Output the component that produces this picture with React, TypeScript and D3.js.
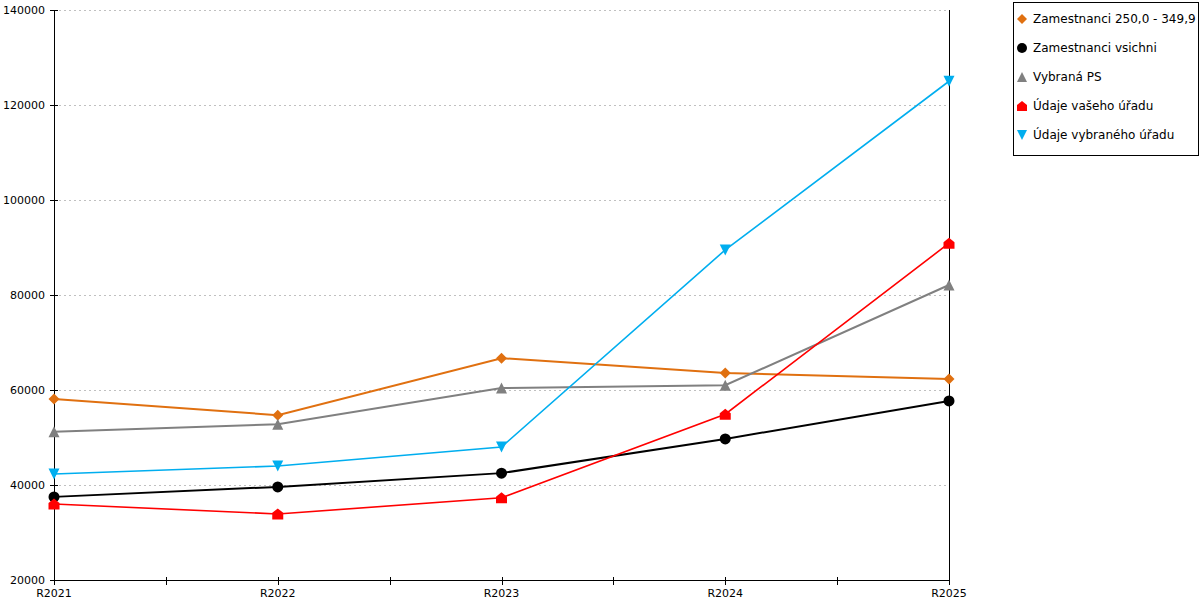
import { useRef, useEffect } from 'react';
import * as d3 from 'd3';

const years = ['R2021', 'R2022', 'R2023', 'R2024', 'R2025'];
const yTicks = [20000, 40000, 60000, 80000, 100000, 120000, 140000];

const zam250 = [58100, 54700, 66700, 63600, 62300];
const zamAll = [37500, 39600, 42500, 49700, 57700];
const vybranaPS = [51200, 52800, 60400, 61000, 82100];
const vasUrad = [36000, 33900, 37300, 54900, 90900];
const vybranyUrad = [42300, 44000, 48000, 89500, 125000];

type Marker = 'diamond' | 'circle' | 'triangle' | 'house' | 'triangleDown';

const series: { name: string; values: number[]; color: string; width: number; marker: Marker }[] = [
  { name: 'Zamestnanci 250,0 - 349,9', values: zam250, color: '#e07010', width: 2, marker: 'diamond' },
  { name: 'Zamestnanci vsichni', values: zamAll, color: '#000000', width: 2, marker: 'circle' },
  { name: 'Vybraná PS', values: vybranaPS, color: '#808080', width: 2, marker: 'triangle' },
  { name: 'Údaje vašeho úřadu', values: vasUrad, color: '#ff0000', width: 1.6, marker: 'house' },
  { name: 'Údaje vybraného úřadu', values: vybranyUrad, color: '#00aeef', width: 1.6, marker: 'triangleDown' },
];

function markerPath(m: Marker, s: number) {
  switch (m) {
    case 'diamond':
      return `M0,${-s}L${s},0L0,${s}L${-s},0Z`;
    case 'circle':
      return d3.symbol(d3.symbolCircle, Math.PI * s * s)()!;
    case 'triangle':
      return `M0,${-s}L${s},${s}L${-s},${s}Z`;
    case 'house':
      return `M0,${-s}L${s},${-s * 0.2}L${s},${s}L${-s},${s}L${-s},${-s * 0.2}Z`;
    case 'triangleDown':
      return `M${-s},${-s}L${s},${-s}L0,${s}Z`;
  }
}

export default function App() {
  const svgRef = useRef<SVGSVGElement>(null);

  useEffect(() => {
    if (!svgRef.current) return;
    const svg = d3.select(svgRef.current);
    svg.selectAll('*').remove();

    const font = 'DejaVu Sans, sans-serif';
    const left = 54;
    const right = 949;
    const top = 10;
    const bottom = 580;

    const x = d3.scalePoint<string>().domain(years).range([left, right]);
    const y = d3.scaleLinear().domain([20000, 140000]).range([bottom, top]);

    // gridlines
    svg
      .append('g')
      .selectAll('line')
      .data(yTicks.slice(1))
      .join('line')
      .attr('x1', left)
      .attr('x2', right - 3)
      .attr('y1', (d) => y(d) + 0.5)
      .attr('y2', (d) => y(d) + 0.5)
      .attr('stroke', '#c0c0c0')
      .attr('stroke-width', 1)
      .attr('stroke-dasharray', '2,3');

    // axes
    const axisG = svg.append('g').attr('stroke', '#000').attr('stroke-width', 1);
    axisG.append('line').attr('x1', left + 0.5).attr('x2', left + 0.5).attr('y1', top).attr('y2', bottom);
    axisG.append('line').attr('x1', right + 0.5).attr('x2', right + 0.5).attr('y1', top).attr('y2', bottom);
    axisG.append('line').attr('x1', left).attr('x2', right).attr('y1', bottom + 0.5).attr('y2', bottom + 0.5);

    axisG
      .selectAll('.ytick')
      .data(yTicks)
      .join('line')
      .attr('x1', left - 4)
      .attr('x2', left + 4)
      .attr('y1', (d) => y(d) + 0.5)
      .attr('y2', (d) => y(d) + 0.5);

    const step = x.step();
    const xTickPos = d3.range(years.length * 2 - 1).map((i) => left + (i * step) / 2);
    axisG
      .selectAll('.xtick')
      .data(xTickPos)
      .join('line')
      .attr('x1', (d) => Math.round(d) + 0.5)
      .attr('x2', (d) => Math.round(d) + 0.5)
      .attr('y1', bottom - 3)
      .attr('y2', bottom + 5);

    svg
      .append('g')
      .selectAll('text')
      .data(yTicks)
      .join('text')
      .attr('x', left - 9)
      .attr('y', (d) => y(d))
      .attr('text-anchor', 'end')
      .attr('dominant-baseline', 'central')
      .attr('font-family', font)
      .attr('font-size', 11)
      .attr('fill', '#000')
      .text((d) => String(d));

    svg
      .append('g')
      .selectAll('text')
      .data(years)
      .join('text')
      .attr('x', (d) => x(d)!)
      .attr('y', 597)
      .attr('text-anchor', 'middle')
      .attr('font-family', font)
      .attr('font-size', 11)
      .attr('fill', '#000')
      .text((d) => d);

    // lines
    const line = d3
      .line<number>()
      .x((_, i) => x(years[i])!)
      .y((d) => y(d));

    series.forEach((s) => {
      svg
        .append('path')
        .datum(s.values)
        .attr('d', line)
        .attr('fill', 'none')
        .attr('stroke', s.color)
        .attr('stroke-width', s.width);
    });

    series.forEach((s) => {
      svg
        .append('g')
        .selectAll('path')
        .data(s.values)
        .join('path')
        .attr('transform', (d, i) => `translate(${x(years[i])},${y(d)})`)
        .attr('d', markerPath(s.marker, 5.5))
        .attr('fill', s.color);
    });

    // legend
    const lg = svg.append('g');
    lg.append('rect')
      .attr('x', 1013.5)
      .attr('y', 2.5)
      .attr('width', 185)
      .attr('height', 153)
      .attr('fill', '#fff')
      .attr('stroke', '#000');

    series.forEach((s, i) => {
      const cy = 19 + i * 29;
      lg.append('path')
        .attr('transform', `translate(1022,${cy})`)
        .attr('d', markerPath(s.marker, 5))
        .attr('fill', s.color);
      lg.append('text')
        .attr('x', 1033)
        .attr('y', cy)
        .attr('dominant-baseline', 'central')
        .attr('font-family', font)
        .attr('font-size', 12)
        .attr('fill', '#000')
        .text(s.name);
    });
  }, []);

  return (
    <svg
      ref={svgRef}
      width={1200}
      height={600}
      style={{ position: 'absolute', left: 0, top: 0, background: '#fff' }}
    />
  );
}
